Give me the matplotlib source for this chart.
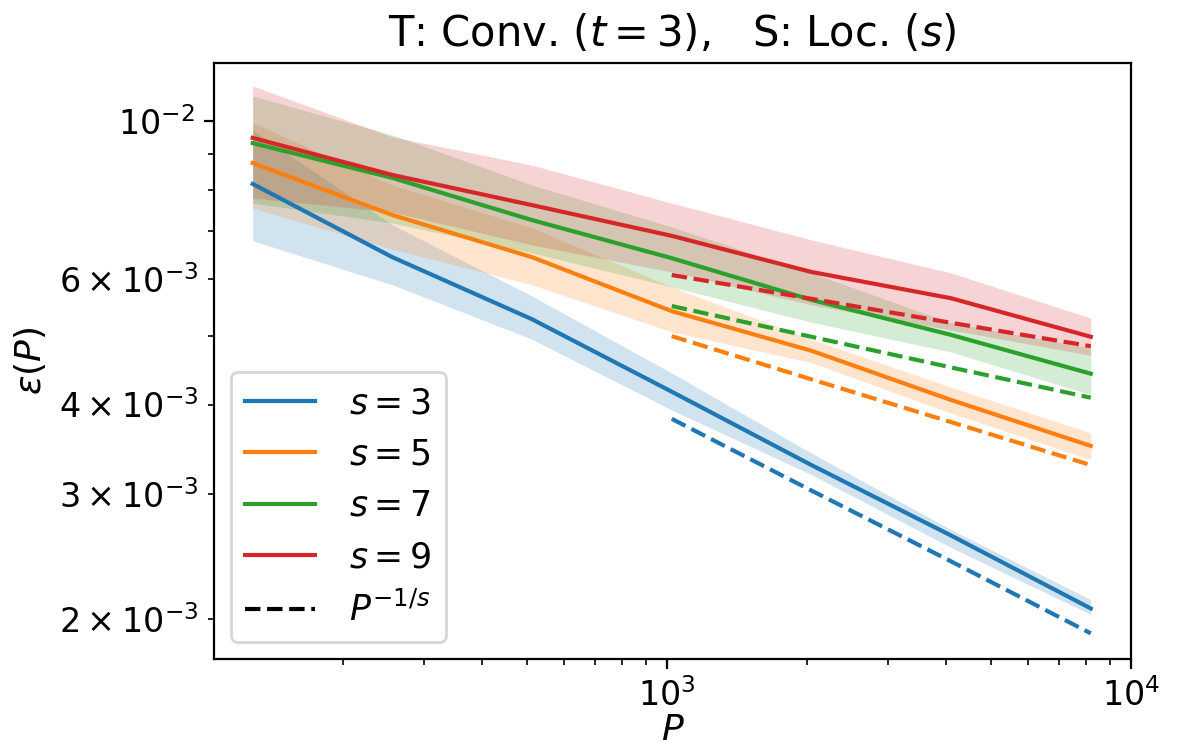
import numpy as np
import matplotlib
matplotlib.use("Agg")
import matplotlib.pyplot as plt

# training set sizes
P = [128, 256, 512, 1024, 2048, 4096, 8192]
P_fit = [1024, 2048, 4096, 8192]
s_values = [3, 5, 7, 9]

# mean test error and band (lower / upper) for each s
err_s3 = [0.00816, 0.00644, 0.00527, 0.00417, 0.00329, 0.00262, 0.00207]
low_s3 = [0.00679, 0.00589, 0.00494, 0.00393, 0.00319, 0.00252, 0.00203]
up_s3 = [0.00971, 0.00715, 0.00568, 0.00443, 0.00342, 0.00267, 0.00213]

err_s5 = [0.00873, 0.00738, 0.00644, 0.00541, 0.00476, 0.00406, 0.00350]
low_s5 = [0.00755, 0.00661, 0.00589, 0.00506, 0.00458, 0.00389, 0.00335]
up_s5 = [0.00994, 0.00813, 0.00708, 0.00585, 0.00494, 0.00423, 0.00365]

err_s7 = [0.00931, 0.00832, 0.00726, 0.00642, 0.00561, 0.00501, 0.00442]
low_s7 = [0.00767, 0.00719, 0.00653, 0.00585, 0.00522, 0.00474, 0.00413]
up_s7 = [0.01084, 0.00956, 0.00813, 0.00710, 0.00612, 0.00521, 0.00480]

err_s9 = [0.00947, 0.00840, 0.00762, 0.00690, 0.00614, 0.00564, 0.00498]
low_s9 = [0.00780, 0.00745, 0.00670, 0.00614, 0.00552, 0.00509, 0.00469]
up_s9 = [0.01120, 0.00950, 0.00867, 0.00767, 0.00681, 0.00612, 0.00529]

# P^{-1/s} reference lines
fit_s3 = [0.00382, 0.00303, 0.00241, 0.00191]
fit_s5 = [0.00499, 0.00434, 0.00378, 0.00329]
fit_s7 = [0.00550, 0.00498, 0.00451, 0.00409]
fit_s9 = [0.00608, 0.00563, 0.00521, 0.00483]

means = [err_s3, err_s5, err_s7, err_s9]
lows = [low_s3, low_s5, low_s7, low_s9]
ups = [up_s3, up_s5, up_s7, up_s9]
fits = [fit_s3, fit_s5, fit_s7, fit_s9]
colors = ["C0", "C1", "C2", "C3"]

fig, ax = plt.subplots(figsize=(5.92, 3.73), dpi=200)
fig.subplots_adjust(left=0.1807, right=0.9552, top=0.9155, bottom=0.1166)

for s, m, lo, hi, f, c in zip(s_values, means, lows, ups, fits, colors):
    ax.plot(P, m, color=c, label=f"$s={s}$")
    ax.fill_between(P, lo, hi, color=c, alpha=0.2, linewidth=0)
    ax.plot(P_fit, f, "--", color=c)

ax.plot([], [], "k--", label="$P^{-1/s}$")

ax.set_xscale("log")
ax.set_yscale("log")
ax.set_xlim(105.6, 10000)
ax.set_ylim(0.001758, 0.01206)
ax.set_xlabel("$P$", fontsize=13, labelpad=0)
ax.set_ylabel(r"$\varepsilon(P)$", fontsize=13)
ax.set_title(r"T: Conv. ($t=3$),   S: Loc. ($s$)", fontsize=15)
ax.tick_params(labelsize=12)
ax.tick_params(axis="y", which="minor", labelsize=12)
ax.legend(loc="lower left", fontsize=12.5, handletextpad=1.0)

plt.savefig("out.png", dpi=200)
